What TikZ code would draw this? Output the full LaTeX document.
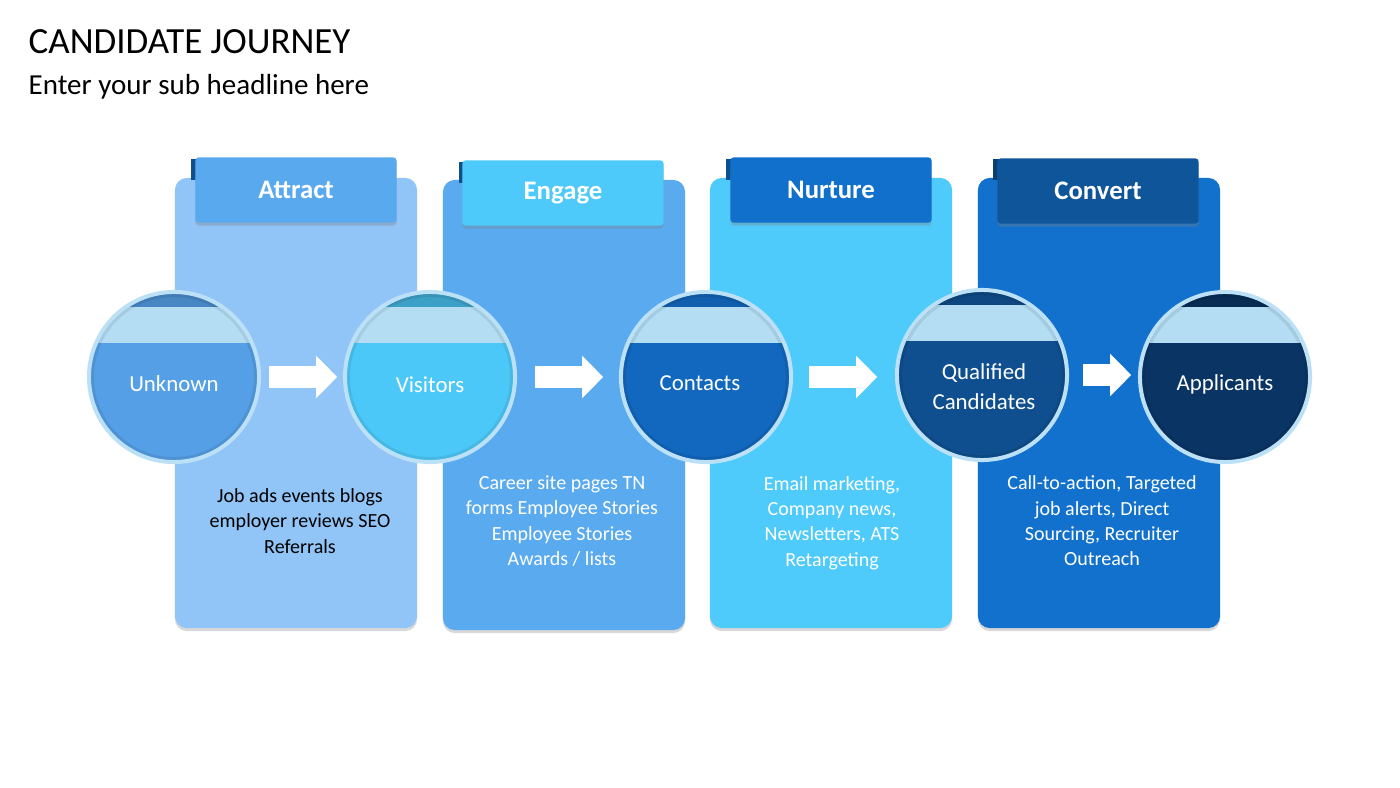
\documentclass[tikz,border=0pt]{standalone}
\usepackage{fontspec}
\setmainfont{Carlito}
\usetikzlibrary{arrows.meta,calc,shadows}

\definecolor{attractPanel}{HTML}{92C5F7}
\definecolor{engagePanel}{HTML}{5AAAF0}
\definecolor{nurturePanel}{HTML}{4FCBFB}
\definecolor{convertPanel}{HTML}{1271CD}
\definecolor{attractTab}{HTML}{59A9EF}
\definecolor{engageTab}{HTML}{4ECAFA}
\definecolor{nurtureTab}{HTML}{1170CB}
\definecolor{convertTab}{HTML}{0E5599}
\definecolor{tabFold}{HTML}{0D4F8F}
\definecolor{unknownFill}{HTML}{559FE6}
\definecolor{visitorsFill}{HTML}{4CC8F8}
\definecolor{contactsFill}{HTML}{1268BE}
\definecolor{qualifiedFill}{HTML}{0F4F8F}
\definecolor{applicantsFill}{HTML}{0A3463}
\definecolor{capBand}{HTML}{B4DDF3}
\definecolor{ringBlue}{HTML}{BCE0F5}

\tikzset{
	panel/.style={rounded corners=0.12cm, minimum width=2.42cm, minimum height=4.5cm,
		drop shadow={opacity=0.3, shadow xshift=0cm, shadow yshift=-0.03cm}},
	tab/.style={rounded corners=0.03cm, minimum width=2.01cm, minimum height=0.65cm,
		text=white, font=\fontsize{7.6}{9}\selectfont\bfseries,
		drop shadow={opacity=0.35, shadow xshift=0cm, shadow yshift=-0.03cm}},
	stage/.style={circle, minimum size=1.7cm, inner sep=0pt},
	stagetext/.style={text=white, align=center, font=\fontsize{6.5}{8.6}\selectfont},
	ring/.style={draw=ringBlue, line width=0.04cm},
	body/.style={align=center, font=\fontsize{5.7}{7.2}\selectfont},
	flow/.style={white, line width=0.21cm, -{Triangle[length=0.21cm, width=0.41cm]}},
}

\begin{document}
\begin{tikzpicture}[x=0.01cm, y=-0.01cm]
	\useasboundingbox[fill=white] (0,0) rectangle (1400,788);

	% titles
	\node[anchor=west, inner sep=0pt, font=\fontsize{10.5}{12}\selectfont] (title) at (28,42) {CANDIDATE JOURNEY};
	\node[anchor=west, inner sep=0pt, font=\fontsize{8.25}{10}\selectfont] (subtitle) at (28,87) {Enter your sub headline here};

	% panels
	\node[panel, fill=attractPanel] (pAttract) at (296,403) {};
	\node[panel, fill=engagePanel] (pEngage) at (564,405) {};
	\node[panel, fill=nurturePanel] (pNurture) at (831,403) {};
	\node[panel, fill=convertPanel] (pConvert) at (1099,403) {};

	% tabs
	\fill[tabFold] (191,159) rectangle (200,180);
	\node[tab, fill=attractTab] (tAttract) at (296,190) {Attract};
	\fill[tabFold] (459,162) rectangle (468,183);
	\node[tab, fill=engageTab] (tEngage) at (563,193) {Engage};
	\fill[tabFold] (726,159) rectangle (735,180);
	\node[tab, fill=nurtureTab] (tNurture) at (831,190) {Nurture};
	\fill[tabFold!80!black] (993,159) rectangle (1002,180);
	\node[tab, fill=convertTab] (tConvert) at (1098,191) {Convert};

	% body texts
	\node[body] (bAttract) at (300,521) {Job ads events blogs\\ employer reviews SEO\\ Referrals};
	\node[body, text=white] (bEngage) at (562,521) {Career site pages TN\\ forms Employee Stories\\ Employee Stories\\ Awards / lists};
	\node[body, text=white] (bNurture) at (832,523) {Email marketing,\\ Company news,\\ Newsletters, ATS\\ Retargeting};
	\node[body, text=white] (bConvert) at (1102,521) {Call-to-action, Targeted\\ job alerts, Direct\\ Sourcing, Recruiter\\ Outreach};

	% circles
	\node[stage, fill=unknownFill] (unknown) at (174,377) {};
	\begin{scope}
		\clip (unknown.center) circle (0.83cm);
		\fill[unknownFill!85!black] ($(unknown.center)+(-90,-90)$) rectangle ($(unknown.center)+(90,-70)$);
		\fill[capBand] ($(unknown.center)+(-90,-70)$) rectangle ($(unknown.center)+(90,-34)$);
	\end{scope}
	\draw[black, opacity=0.08, line width=0.03cm] (unknown.center) circle (0.815cm);
	\draw[ring] (unknown.center) circle (0.85cm);
	\node[stagetext] at ($(unknown.center)+(0,7)$) {Unknown};

	\node[stage, fill=visitorsFill] (visitors) at (430,377) {};
	\begin{scope}
		\clip (visitors.center) circle (0.83cm);
		\fill[visitorsFill!80!black] ($(visitors.center)+(-90,-90)$) rectangle ($(visitors.center)+(90,-70)$);
		\fill[capBand] ($(visitors.center)+(-90,-70)$) rectangle ($(visitors.center)+(90,-34)$);
	\end{scope}
	\draw[black, opacity=0.08, line width=0.03cm] (visitors.center) circle (0.815cm);
	\draw[ring] (visitors.center) circle (0.85cm);
	\node[stagetext] at ($(visitors.center)+(0,8)$) {Visitors};

	\node[stage, fill=contactsFill] (contacts) at (706,377) {};
	\begin{scope}
		\clip (contacts.center) circle (0.83cm);
		\fill[contactsFill!92!black] ($(contacts.center)+(-90,-90)$) rectangle ($(contacts.center)+(90,-70)$);
		\fill[capBand] ($(contacts.center)+(-90,-70)$) rectangle ($(contacts.center)+(90,-34)$);
	\end{scope}
	\draw[black, opacity=0.08, line width=0.03cm] (contacts.center) circle (0.815cm);
	\draw[ring] (contacts.center) circle (0.85cm);
	\node[stagetext] at ($(contacts.center)+(-6,6)$) {Contacts};

	\node[stage, fill=qualifiedFill] (qualified) at (982,375) {};
	\begin{scope}
		\clip (qualified.center) circle (0.83cm);
		\fill[qualifiedFill!90!black] ($(qualified.center)+(-90,-90)$) rectangle ($(qualified.center)+(90,-70)$);
		\fill[capBand] ($(qualified.center)+(-90,-70)$) rectangle ($(qualified.center)+(90,-34)$);
	\end{scope}
	\draw[black, opacity=0.08, line width=0.03cm] (qualified.center) circle (0.815cm);
	\draw[ring] (qualified.center) circle (0.85cm);
	\node[stagetext] at ($(qualified.center)+(2,12)$) {Qualified\\ Candidates};

	\node[stage, fill=applicantsFill] (applicants) at (1225,377) {};
	\begin{scope}
		\clip (applicants.center) circle (0.83cm);
		\fill[applicantsFill!85!black] ($(applicants.center)+(-90,-90)$) rectangle ($(applicants.center)+(90,-70)$);
		\fill[capBand] ($(applicants.center)+(-90,-70)$) rectangle ($(applicants.center)+(90,-34)$);
	\end{scope}
	\draw[black, opacity=0.08, line width=0.03cm] (applicants.center) circle (0.815cm);
	\draw[ring] (applicants.center) circle (0.85cm);
	\node[stagetext] at ($(applicants.center)+(0,7)$) {Applicants};

	% arrows
	\draw[flow, shorten <=0.09cm, shorten >=0.07cm] (unknown.east) -- (unknown.east -| visitors.west);
	\draw[flow, shorten <=0.19cm, shorten >=0.17cm] (visitors.east) -- (visitors.east -| contacts.west);
	\draw[flow, shorten <=0.17cm, shorten >=0.19cm] (contacts.east) -- (contacts.east -| qualified.west);
	\draw[flow, shorten <=0.15cm, shorten >=0.08cm] (qualified.east) -- (qualified.east -| applicants.west);
\end{tikzpicture}
\end{document}
